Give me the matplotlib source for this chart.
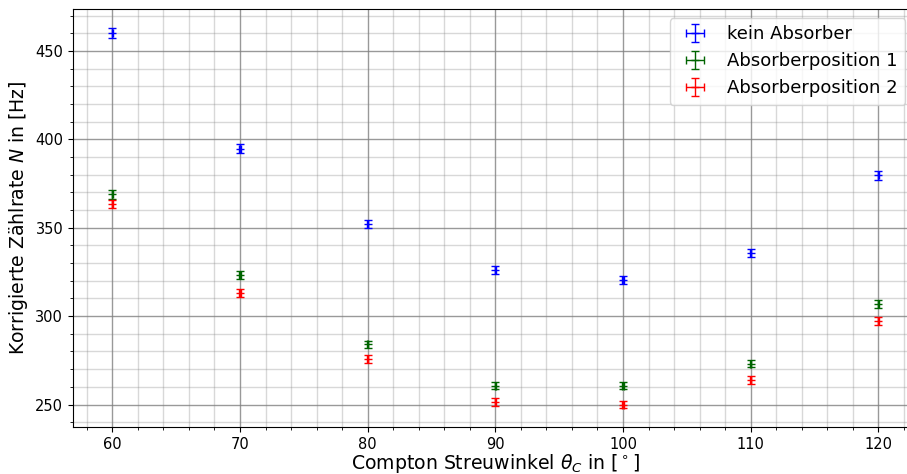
import matplotlib
matplotlib.use("Agg")
import matplotlib.pyplot as plt
from matplotlib.ticker import MultipleLocator

winkel = [60, 70, 80, 90, 100, 110, 120]
kein_absorber = [460.0, 394.8, 352.0, 326.0, 320.6, 335.6, 379.6]
absorber_pos1 = [368.9, 323.2, 284.0, 260.7, 260.7, 273.1, 306.9]
absorber_pos2 = [363.4, 313.3, 275.9, 251.4, 249.9, 263.9, 297.3]
err_kein = [2.8, 2.6, 2.4, 2.4, 2.3, 2.4, 2.6]
err_pos1 = [2.5, 2.3, 2.2, 2.1, 2.1, 2.1, 2.3]
err_pos2 = [2.5, 2.3, 2.2, 2.1, 2.1, 2.1, 2.3]
xerr = 0.05

fig = plt.figure(figsize=(9.07, 4.74), dpi=100)
ax = fig.add_axes([73/907, 47/474, (917.7-73)/907, (427-9)/474])

kw = dict(fmt='_', markersize=6, capsize=3, elinewidth=1)
ax.errorbar(winkel, kein_absorber, yerr=err_kein, xerr=xerr, color='blue', label='kein Absorber', **kw)
ax.errorbar(winkel, absorber_pos1, yerr=err_pos1, xerr=xerr, color='darkgreen', label='Absorberposition 1', **kw)
ax.errorbar(winkel, absorber_pos2, yerr=err_pos2, xerr=xerr, color='red', label='Absorberposition 2', **kw)

ax.set_xlim(56.92, 123.08)
ax.set_ylim(237.3, 473.7)
ax.xaxis.set_major_locator(MultipleLocator(10))
ax.xaxis.set_minor_locator(MultipleLocator(2))
ax.yaxis.set_major_locator(MultipleLocator(50))
ax.yaxis.set_minor_locator(MultipleLocator(10))
ax.grid(which='major', color='gray', alpha=0.8, linewidth=1)
ax.grid(which='minor', color='gray', alpha=0.3, linewidth=1)
ax.tick_params(labelsize=10.5)
ax.set_xlabel(r'Compton Streuwinkel $\theta_C$ in [$^\circ$]', fontsize=13.6, labelpad=0)
ax.set_ylabel(r'Korrigierte Zählrate $N$ in [Hz]', fontsize=13.6)
ax.legend(loc='upper right', fontsize=13, bbox_to_anchor=(0.996, 1))

fig.savefig('out.png', dpi=100)
